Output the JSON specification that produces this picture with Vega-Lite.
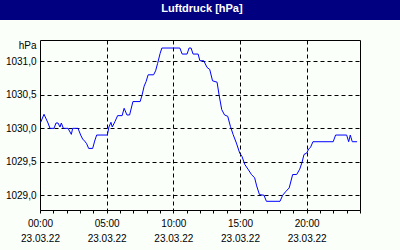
{
  "$schema": "https://vega.github.io/schema/vega-lite/v6.json",
  "background": "#fafffa",
  "padding": {"left": 0, "top": 0, "right": 0, "bottom": 6},
  "autosize": {"type": "pad"},
  "spacing": 20,
  "bounds": "flush",
  "center": true,
  "vconcat": [
    {
      "width": 400,
      "height": 20,
      "view": {"fill": "#000080", "stroke": null},
      "data": {"values": [{"t": "Luftdruck [hPa]"}]},
      "mark": {"type": "text", "color": "white", "font": "Liberation Sans", "fontWeight": "bold", "fontSize": 11, "dx": 2, "dy": -1.5},
      "encoding": {"text": {"field": "t"}}
    },
    {
      "width": 320,
      "height": 170,
      "view": {"stroke": "black", "strokeWidth": 1, "fill": null},
      "data": {"values": [
        {"h": 0.05, "p": 1030.09}, {"h": 0.3, "p": 1030.21}, {"h": 0.6, "p": 1030.08}, {"h": 0.75, "p": 1030.0},
        {"h": 1.05, "p": 1030.0}, {"h": 1.2, "p": 1030.08}, {"h": 1.35, "p": 1030.08}, {"h": 1.5, "p": 1030.02},
        {"h": 1.6, "p": 1030.08}, {"h": 1.75, "p": 1030.0}, {"h": 2.1, "p": 1030.0}, {"h": 2.35, "p": 1029.91},
        {"h": 2.45, "p": 1030.0}, {"h": 2.85, "p": 1030.0}, {"h": 3.05, "p": 1029.9}, {"h": 3.2, "p": 1029.84},
        {"h": 3.35, "p": 1029.81}, {"h": 3.5, "p": 1029.77}, {"h": 3.65, "p": 1029.7}, {"h": 3.95, "p": 1029.7},
        {"h": 4.1, "p": 1029.81}, {"h": 4.25, "p": 1029.9}, {"h": 5.05, "p": 1029.9}, {"h": 5.17, "p": 1030.02},
        {"h": 5.32, "p": 1030.09}, {"h": 5.42, "p": 1030.02}, {"h": 5.62, "p": 1030.1}, {"h": 5.82, "p": 1030.19},
        {"h": 6.16, "p": 1030.19}, {"h": 6.31, "p": 1030.3}, {"h": 6.52, "p": 1030.2}, {"h": 6.72, "p": 1030.2},
        {"h": 6.97, "p": 1030.4}, {"h": 7.51, "p": 1030.4}, {"h": 7.66, "p": 1030.5}, {"h": 7.81, "p": 1030.63},
        {"h": 7.96, "p": 1030.7}, {"h": 8.11, "p": 1030.8}, {"h": 8.52, "p": 1030.8}, {"h": 8.67, "p": 1030.86},
        {"h": 8.82, "p": 1030.97}, {"h": 9.01, "p": 1031.12}, {"h": 9.14, "p": 1031.2}, {"h": 10.49, "p": 1031.2},
        {"h": 10.66, "p": 1031.11}, {"h": 11.03, "p": 1031.11}, {"h": 11.18, "p": 1031.2}, {"h": 11.33, "p": 1031.2},
        {"h": 11.48, "p": 1031.11}, {"h": 11.86, "p": 1031.11}, {"h": 11.99, "p": 1031.01}, {"h": 12.28, "p": 1031.01},
        {"h": 12.53, "p": 1030.91}, {"h": 12.73, "p": 1030.88}, {"h": 12.94, "p": 1030.71}, {"h": 13.28, "p": 1030.69},
        {"h": 13.43, "p": 1030.5}, {"h": 13.63, "p": 1030.28}, {"h": 13.84, "p": 1030.2}, {"h": 14.08, "p": 1030.18},
        {"h": 14.28, "p": 1030.03}, {"h": 14.48, "p": 1029.91}, {"h": 14.73, "p": 1029.78}, {"h": 14.98, "p": 1029.63},
        {"h": 15.15, "p": 1029.58}, {"h": 15.36, "p": 1029.46}, {"h": 15.6, "p": 1029.39}, {"h": 15.86, "p": 1029.31},
        {"h": 16.1, "p": 1029.26}, {"h": 16.25, "p": 1029.14}, {"h": 16.46, "p": 1029.01}, {"h": 16.8, "p": 1029.0},
        {"h": 16.98, "p": 1028.91}, {"h": 18.0, "p": 1028.91}, {"h": 18.2, "p": 1029.0}, {"h": 18.45, "p": 1029.06},
        {"h": 18.69, "p": 1029.11}, {"h": 18.95, "p": 1029.31}, {"h": 19.25, "p": 1029.31}, {"h": 19.48, "p": 1029.39},
        {"h": 19.65, "p": 1029.49}, {"h": 19.8, "p": 1029.61}, {"h": 20.0, "p": 1029.63}, {"h": 20.15, "p": 1029.69},
        {"h": 20.3, "p": 1029.72}, {"h": 20.47, "p": 1029.8}, {"h": 21.99, "p": 1029.8}, {"h": 22.17, "p": 1029.9},
        {"h": 23.0, "p": 1029.9}, {"h": 23.15, "p": 1029.8}, {"h": 23.27, "p": 1029.9}, {"h": 23.42, "p": 1029.8},
        {"h": 23.78, "p": 1029.8}
      ]},
      "mark": {"type": "line", "color": "#0000ff", "strokeWidth": 1, "clip": true},
      "encoding": {
        "x": {
          "field": "h", "type": "quantitative",
          "scale": {"domain": [0, 24], "nice": false, "zero": false},
          "axis": {
            "title": null,
            "values": [0, 1, 2, 3, 4, 5, 6, 7, 8, 9, 10, 11, 12, 13, 14, 15, 16, 17, 18, 19, 20, 21, 22, 23, 24],
            "labelExpr": "datum.value % 5 === 0 && datum.value < 24 ? [(datum.value < 10 ? '0' : '') + datum.value + ':00', '23.03.22'] : ''",
            "labelFlush": false,
            "labelOverlap": false,
            "labelFont": "Liberation Sans",
            "labelFontSize": 10,
            "labelColor": "black",
            "labelLineHeight": 15,
            "labelPadding": 5,
            "tickSize": 3,
            "tickColor": "black",
            "domainColor": "black",
            "grid": true,
            "gridColor": "black",
            "gridDash": [4, 3],
            "gridOpacity": {"condition": {"test": "datum.value % 5 === 0 && datum.value > 0 && datum.value < 24", "value": 1}, "value": 0}
          }
        },
        "y": {
          "field": "p", "type": "quantitative",
          "scale": {"domain": [1028.78, 1031.32], "nice": false, "zero": false},
          "axis": {
            "title": "hPa",
            "titleAngle": 0,
            "titleAlign": "right",
            "titleBaseline": "alphabetic",
            "titleX": -4,
            "titleY": 8,
            "titleFont": "Liberation Sans",
            "titleFontSize": 10,
            "titleFontWeight": "normal",
            "titleColor": "black",
            "values": [1029, 1029.5, 1030, 1030.5, 1031],
            "labelExpr": "replace(format(datum.value, '.1f'), '.', ',')",
            "labelFont": "Liberation Sans",
            "labelFontSize": 10,
            "labelColor": "black",
            "labelPadding": 4,
            "ticks": false,
            "domain": false,
            "grid": true,
            "gridColor": "black",
            "gridDash": [4, 3]
          }
        }
      }
    }
  ]
}
